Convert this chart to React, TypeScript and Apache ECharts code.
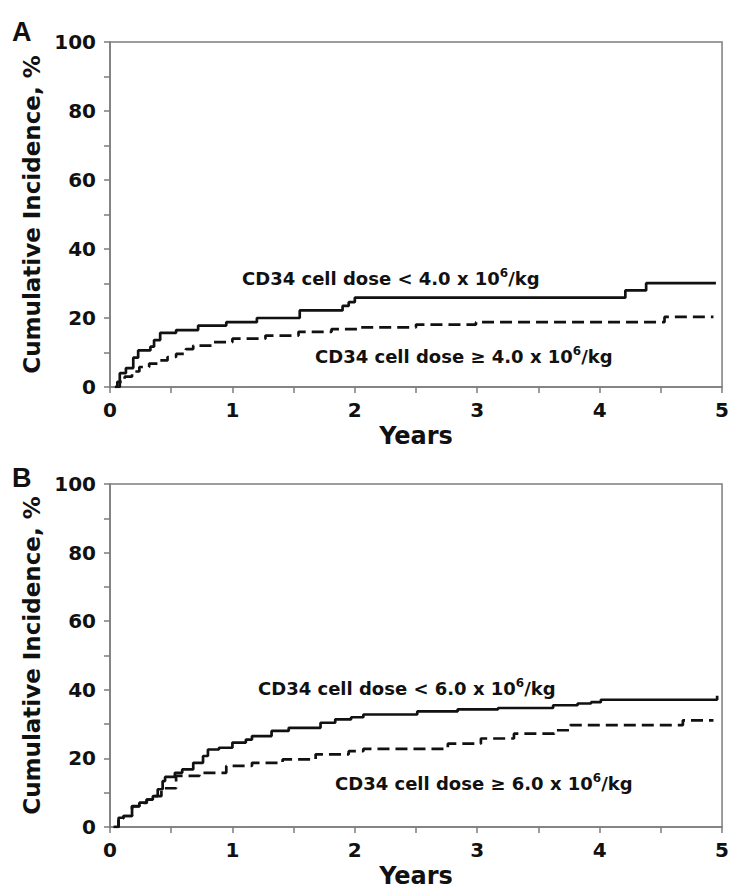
import React, { useEffect, useRef } from "react";
import * as echarts from "echarts";

// Panel A: CD34 dose threshold 4.0 x 10^6/kg
const aLowT = [0.04, 0.06, 0.08, 0.13, 0.19, 0.23, 0.33, 0.36, 0.41, 0.54, 0.72, 0.95, 1.2, 1.55, 1.9, 1.95, 2.0, 4.21, 4.38, 4.95];
const aLowY = [0, 1.5, 4, 5.5, 8.5, 10.6, 11.7, 13.6, 15.7, 16.5, 17.8, 18.8, 20, 22.2, 23.5, 24.6, 25.9, 28, 30.1, 30.1];
const aHighT = [0.04, 0.08, 0.12, 0.18, 0.24, 0.32, 0.4, 0.47, 0.54, 0.62, 0.68, 0.84, 1.0, 1.27, 1.54, 1.81, 2.05, 2.5, 2.99, 4.53, 4.93];
const aHighY = [0, 1.5, 3, 4.5, 5.8, 6.8, 7.7, 8.7, 9.6, 11, 12, 13, 14, 14.9, 16, 16.8, 17.3, 18.1, 18.8, 20.3, 20.3];

// Panel B: CD34 dose threshold 6.0 x 10^6/kg
const bLowT = [0.03, 0.07, 0.11, 0.18, 0.24, 0.3, 0.35, 0.39, 0.43, 0.45, 0.53, 0.59, 0.68, 0.76, 0.8, 0.89, 1.0, 1.11, 1.16, 1.32, 1.46, 1.72, 1.84, 1.97, 2.07, 2.51, 2.84, 3.17, 3.62, 3.82, 3.93, 4.01, 4.95, 4.96];
const bLowY = [0, 2.7, 3.2, 6.1, 7.1, 8, 9, 11, 13.4, 14.6, 15.8, 16.8, 18.7, 20.7, 22.6, 23.1, 24.6, 25.5, 26.5, 28, 28.9, 30.4, 31.4, 32, 32.8, 33.7, 34.3, 34.7, 35.5, 36, 36.4, 37.1, 37.1, 38.3];
const bHighT = [0.03, 0.07, 0.11, 0.18, 0.24, 0.3, 0.36, 0.42, 0.54, 0.73, 0.95, 1.16, 1.41, 1.68, 1.95, 2.07, 2.76, 3.03, 3.3, 3.63, 3.76, 4.68, 4.93];
const bHighY = [0, 2.5, 3.2, 6, 7, 8, 9, 11.3, 14.9, 15.8, 17.8, 18.7, 19.7, 21.2, 22.1, 22.8, 24.3, 25.8, 27.2, 28.2, 29.7, 31.1, 31.1];

const panelLetters = ["A", "B"];
// [text before superscript, superscript, text after]
const aLabels = [
  ["CD34 cell dose < 4.0 x 10", "6", "/kg"],
  ["CD34 cell dose ≥ 4.0 x 10", "6", "/kg"],
];
const bLabels = [
  ["CD34 cell dose < 6.0 x 10", "6", "/kg"],
  ["CD34 cell dose ≥ 6.0 x 10", "6", "/kg"],
];
const yName = "Cumulative Incidence, %";
const xName = "Years";

const zip = (t: number[], y: number[]) => t.map((v, i) => [v, y[i]]);

const FONT = "DejaVu Sans";
const AXIS_COLOR = "#7d7d7d";

export default function App() {
  const ref = useRef<HTMLDivElement>(null);
  useEffect(() => {
    if (!ref.current) return;
    const chart = echarts.init(ref.current, null, { renderer: "svg" });
    const grids = [
      { left: 110, top: 42, width: 615, height: 345 },
      { left: 110, top: 484, width: 615, height: 345 },
    ];
    const xAxis = grids.map((_, i) => ({
      type: "value",
      gridIndex: i,
      min: 0,
      max: 5,
      interval: 0.5,
      name: xName,
      nameLocation: "middle",
      nameGap: 37,
      nameTextStyle: { fontFamily: FONT, fontWeight: "bold", fontSize: 24, color: "#111" },
      axisLine: { show: true, lineStyle: { color: AXIS_COLOR, width: 1.5 } },
      axisTick: { show: true, inside: false, length: 6, lineStyle: { color: AXIS_COLOR, width: 1.5 } },
      axisLabel: {
        margin: 13,
        fontFamily: FONT,
        fontWeight: "bold",
        fontSize: 20,
        color: "#111",
        formatter: (v: number) => (Number.isInteger(v) ? String(v) : ""),
      },
      splitLine: { show: false },
    }));
    const yAxis = grids.map((_, i) => ({
      type: "value",
      gridIndex: i,
      min: 0,
      max: 100,
      interval: 10,
      name: yName,
      nameLocation: "middle",
      nameGap: 53,
      nameTextStyle: { fontFamily: FONT, fontWeight: "bold", fontSize: 23, color: "#111" },
      axisLine: { show: true, lineStyle: { color: AXIS_COLOR, width: 1.5 } },
      axisTick: { show: true, inside: false, length: 6, lineStyle: { color: AXIS_COLOR, width: 1.5 } },
      axisLabel: {
        margin: 14,
        fontFamily: FONT,
        fontWeight: "bold",
        fontSize: 20,
        color: "#111",
        formatter: (v: number) => (v % 20 === 0 ? String(v) : ""),
      },
      splitLine: { show: false },
    }));
    const mk = (data: number[][], idx: number, dashed: boolean) => ({
      type: "line",
      xAxisIndex: idx,
      yAxisIndex: idx,
      step: "end",
      data,
      showSymbol: false,
      symbol: "none",
      lineStyle: {
        color: "#111",
        width: 2.7,
        type: dashed ? [12, 6] : "solid",
      },
    });
    const label = (x: number, y: number, parts: string[]) => ({
      type: "text",
      x,
      y,
      style: {
        text: `{a|${parts[0]}}{s|${parts[1]}}{a|${parts[2]}}`,
        fontFamily: FONT,
        fontWeight: "bold",
        fill: "#111",
        textVerticalAlign: "middle",
        rich: {
          a: { fontFamily: FONT, fontWeight: "bold", fontSize: 18, lineHeight: 20, fill: "#111", verticalAlign: "bottom" },
          s: { fontFamily: FONT, fontWeight: "bold", fontSize: 12, lineHeight: 13, fill: "#111", verticalAlign: "top" },
        },
      },
    });
    chart.setOption({
      animation: false,
      backgroundColor: "#fff",
      grid: grids.map((g) => ({ ...g, show: true, borderColor: AXIS_COLOR, borderWidth: 1.5, backgroundColor: "#fff" })),
      xAxis,
      yAxis,
      series: [
        mk(zip(aLowT, aLowY), 0, false),
        mk(zip(aHighT, aHighY), 0, true),
        mk(zip(bLowT, bLowY), 1, false),
        mk(zip(bHighT, bHighY), 1, true),
      ],
      graphic: [
        {
          type: "text",
          x: 12,
          y: 32,
          style: { text: panelLetters[0], fontFamily: "Liberation Sans", fontWeight: "bold", fontSize: 27, fill: "#111", textVerticalAlign: "middle" },
        },
        {
          type: "text",
          x: 12,
          y: 478,
          style: { text: panelLetters[1], fontFamily: "Liberation Sans", fontWeight: "bold", fontSize: 27, fill: "#111", textVerticalAlign: "middle" },
        },
        label(242, 277, aLabels[0]),
        label(315, 355, aLabels[1]),
        label(258, 687, bLabels[0]),
        label(335, 782, bLabels[1]),
      ],
    });
    return () => chart.dispose();
  }, []);
  return (
    <div
      ref={ref}
      style={{ position: "absolute", left: 0, top: 0, width: 732, height: 889, background: "#fff" }}
    />
  );
}
